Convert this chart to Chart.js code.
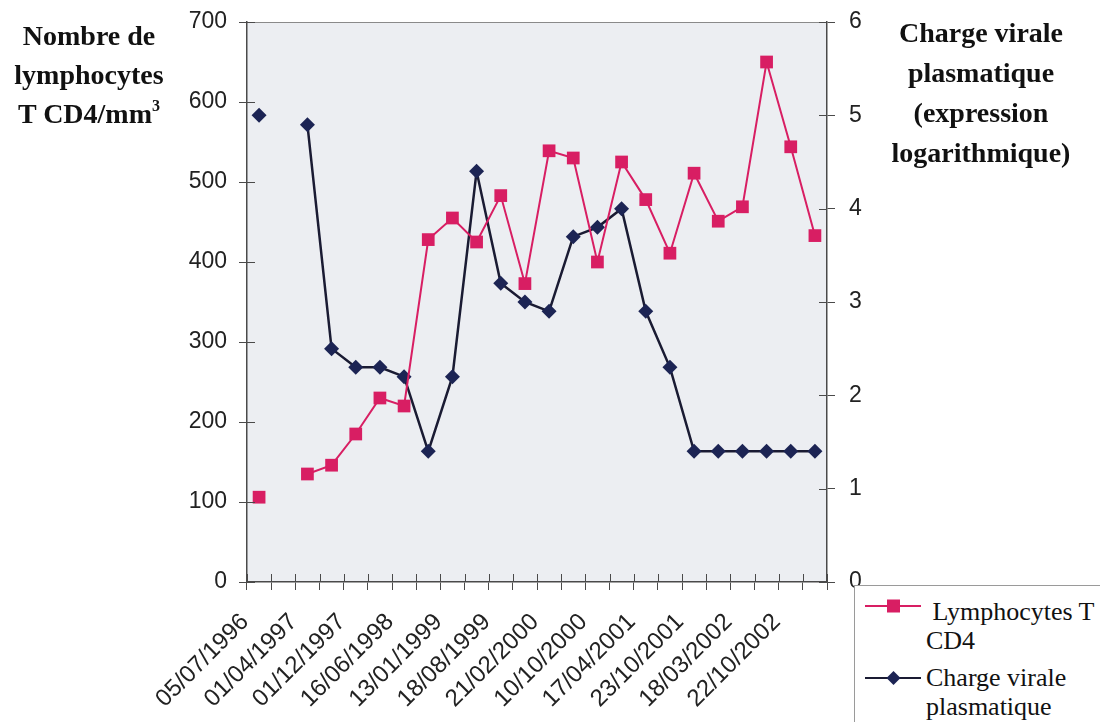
<!DOCTYPE html>
<html lang="fr">
<head>
<meta charset="UTF-8">
<title>Lymphocytes T CD4 et charge virale plasmatique</title>
<script src="https://cdn.jsdelivr.net/npm/chart.js"></script>
<style>
  body { margin: 0; background: #fff; }
  #wrap { position: relative; width: 1100px; height: 722px; overflow: hidden; }
  #chartCanvas { position: absolute; left: 0; top: 0; }
  .axisTitle {
    position: absolute;
    font-family: 'Liberation Serif', 'Times New Roman', serif;
    font-weight: bold;
    font-size: 28px;
    line-height: 39px;
    text-align: center;
    color: #111;
  }
  #leftTitle { left: 0; top: 16px; width: 178px; }
  #rightTitle { left: 868px; top: 13px; width: 226px; line-height: 40px; }
  #legend {
    position: absolute; left: 854px; top: 585px; width: 260px; height: 150px;
    border: 1px solid #9a9a9a; background: #fff;
  }
  .legText {
    position: absolute;
    font-family: 'Liberation Serif', 'Times New Roman', serif;
    font-size: 26px; line-height: 29px; color: #111; white-space: nowrap;
  }
  .legSym { position: absolute; }
</style>
</head>
<body>
<div id="wrap">
  <canvas id="chartCanvas" width="1100" height="722"></canvas>
  <div class="axisTitle" id="leftTitle">Nombre de<br>lymphocytes<br>T CD4/mm<sup style="font-size:16px;vertical-align:12px;line-height:0">3</sup></div>
  <div class="axisTitle" id="rightTitle">Charge virale<br>plasmatique<br>(expression<br>logarithmique)</div>
  <div id="legend">
    <svg class="legSym" style="left:8px;top:8px" width="60" height="24">
      <line x1="2" y1="12" x2="58" y2="12" stroke="#d81e63" stroke-width="2"/>
      <rect x="24" y="5.5" width="13" height="13" fill="#d81e63"/>
    </svg>
    <div class="legText" style="left:71px;top:11px">&nbsp;Lymphocytes T<br>CD4</div>
    <svg class="legSym" style="left:8px;top:80px" width="60" height="24">
      <line x1="2" y1="12" x2="58" y2="12" stroke="#1a1b33" stroke-width="2"/>
      <polygon points="30.5,5 37.5,12 30.5,19 23.5,12" fill="#1c2454"/>
    </svg>
    <div class="legText" style="left:71px;top:77px">Charge virale<br>plasmatique</div>
  </div>
</div>

<script>
    // dates shown under every other measurement
    const dateLabels = ['05/07/1996', '01/04/1997', '01/12/1997', '16/06/1998', '13/01/1999', '18/08/1999',
                        '21/02/2000', '10/10/2000', '17/04/2001', '23/10/2001', '18/03/2002', '22/10/2002'];

    // lymphocytes T CD4 / mm3 (left axis)
    const cd4Values = [106, null, 135, 146, 185, 230, 220, 428, 455, 425, 483, 373,
                       539, 530, 400, 525, 478, 411, 511, 451, 469, 650, 544, 433];

    // charge virale, log (right axis)
    const viralLoad = [5.0, null, 4.9, 2.5, 2.3, 2.3, 2.2, 1.4, 2.2, 4.4, 3.2, 3.0,
                       2.9, 3.7, 3.8, 4.0, 2.9, 2.3, 1.4, 1.4, 1.4, 1.4, 1.4, 1.4];

    const leftTicks = { min: 0, max: 700, step: 100 };
    const rightTicks = { min: 0, max: 6, step: 1 };

    const categories = cd4Values.map((_, i) => (i % 2 === 0 ? dateLabels[i / 2] : ''));

    const axisColor = '#4a4a4a';
    const tickFont = { family: "'Liberation Sans', Arial, sans-serif", size: 23 };

    // plot background + top frame line
    const plotFrame = {
        id: 'plotFrame',
        beforeDraw(chart) {
            const { ctx, chartArea: a } = chart;
            ctx.save();
            ctx.fillStyle = '#eceef2';
            ctx.fillRect(a.left, a.top, a.width, a.height);
            ctx.strokeStyle = '#8a8a8a';
            ctx.lineWidth = 1;
            ctx.beginPath();
            ctx.moveTo(a.left, a.top + 0.5);
            ctx.lineTo(a.right, a.top + 0.5);
            ctx.stroke();
            ctx.restore();
        },
        // inner half of the tick marks (they cross the axes)
        afterDraw(chart) {
            const { ctx, chartArea: a, scales } = chart;
            const len = 8;
            ctx.save();
            ctx.strokeStyle = axisColor;
            ctx.lineWidth = 1;
            ctx.beginPath();
            const n = chart.data.labels.length;
            for (let i = 0; i <= n; i++) {
                const x = Math.round(a.left + i * a.width / n) + 0.5;
                ctx.moveTo(x, a.bottom);
                ctx.lineTo(x, a.bottom - len);
            }
            scales.y.ticks.forEach(t => {
                const y = Math.round(scales.y.getPixelForValue(t.value)) + 0.5;
                ctx.moveTo(a.left, y);
                ctx.lineTo(a.left + len, y);
            });
            scales.y1.ticks.forEach(t => {
                const y = Math.round(scales.y1.getPixelForValue(t.value)) + 0.5;
                ctx.moveTo(a.right, y);
                ctx.lineTo(a.right - len, y);
            });
            ctx.stroke();
            ctx.restore();
        }
    };

    // fixed axis sizes, and no extra room asked for the end labels
    function fixAxis(size) {
        return s => {
            if (s.isHorizontal()) s.height = size; else s.width = size;
            s.paddingTop = 0;
            s.paddingBottom = 0;
        };
    }

    new Chart(document.getElementById('chartCanvas'), {
        type: 'line',
        data: {
            labels: categories,
            datasets: [{
                label: 'Lymphocytes T CD4',
                data: cd4Values,
                yAxisID: 'y',
                borderColor: '#d81e63',
                backgroundColor: '#d81e63',
                borderWidth: 2,
                pointStyle: 'rect',
                pointRadius: 9,
                pointBorderWidth: 0,
                tension: 0,
                spanGaps: false
            }, {
                label: 'Charge virale plasmatique',
                data: viralLoad,
                yAxisID: 'y1',
                borderColor: '#1a1b33',
                backgroundColor: '#1c2454',
                borderWidth: 2.5,
                pointStyle: 'rectRot',
                pointRadius: 7.5,
                pointBorderWidth: 0,
                tension: 0,
                spanGaps: false
            }]
        },
        options: {
            responsive: false,
            animation: false,
            layout: { padding: { top: 22, left: 0, right: 0, bottom: 0 } },
            plugins: {
                legend: { display: false },
                tooltip: { enabled: false }
            },
            scales: {
                x: {
                    offset: true,
                    grid: { offset: true, drawOnChartArea: false, drawTicks: true, tickLength: 8, color: axisColor },
                    border: { display: true, color: axisColor, width: 1.5 },
                    ticks: {
                        autoSkip: false, maxRotation: 45, minRotation: 45,
                        padding: 18, labelOffset: -14, color: '#222',
                        font: { family: "'Liberation Sans', Arial, sans-serif", size: 24 }
                    },
                    afterFit: fixAxis(140)
                },
                y: {
                    position: 'left',
                    min: leftTicks.min, max: leftTicks.max,
                    grid: { drawOnChartArea: false, tickLength: 8, color: axisColor },
                    border: { display: true, color: axisColor, width: 1.5 },
                    ticks: { stepSize: leftTicks.step, padding: 12, color: '#222', font: tickFont },
                    afterFit: fixAxis(247)
                },
                y1: {
                    position: 'right',
                    min: rightTicks.min, max: rightTicks.max,
                    grid: { drawOnChartArea: false, tickLength: 8, color: axisColor },
                    border: { display: true, color: axisColor, width: 1.5 },
                    ticks: { stepSize: rightTicks.step, padding: 14, color: '#222', font: tickFont },
                    afterFit: fixAxis(273)
                }
            }
        },
        plugins: [plotFrame]
    });
</script>
</body>
</html>
